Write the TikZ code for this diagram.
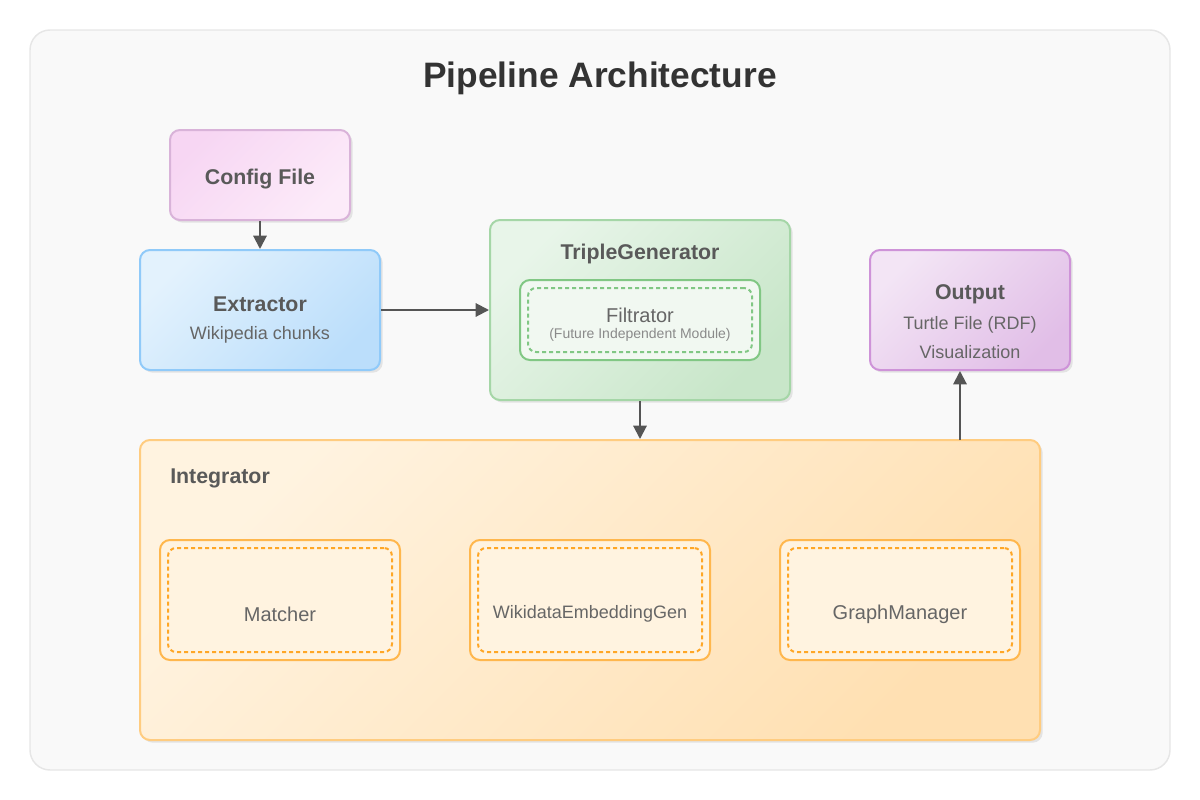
\documentclass[tikz,border=0pt]{standalone}
\usepackage{fontspec}
\setmainfont{Liberation Sans}
\usetikzlibrary{arrows.meta, shadows, positioning}
\definecolor{panelfill}{HTML}{F9F9F9}
\definecolor{panelline}{HTML}{E6E6E6}
\definecolor{titlecol}{HTML}{333333}
\definecolor{headcol}{HTML}{595959}
\definecolor{textcol}{HTML}{666666}
\definecolor{notecol}{HTML}{8A8A8A}
\definecolor{arrowcol}{HTML}{555555}
\definecolor{pinktop}{HTML}{F7D6F3}
\definecolor{pinkbot}{HTML}{FCEBF9}
\definecolor{pinkline}{HTML}{D9B3D9}
\definecolor{bluetop}{HTML}{E3F2FD}
\definecolor{bluebot}{HTML}{BBDEFB}
\definecolor{blueline}{HTML}{90CAF9}
\definecolor{greentop}{HTML}{E8F5E9}
\definecolor{greenbot}{HTML}{C8E6C9}
\definecolor{greenline}{HTML}{A5D6A7}
\definecolor{greendash}{HTML}{81C784}
\definecolor{greenfill}{HTML}{F1F8F1}
\definecolor{purpletop}{HTML}{F3E5F5}
\definecolor{purplebot}{HTML}{E1BEE7}
\definecolor{purpleline}{HTML}{CE93D8}
\definecolor{orangetop}{HTML}{FFF3E0}
\definecolor{orangebot}{HTML}{FFE0B2}
\definecolor{orangeline}{HTML}{FFCC80}
\definecolor{subline}{HTML}{FFB74D}
\definecolor{subdash}{HTML}{FFA726}
\tikzset{
	x=0.75pt, y=-0.75pt,
	box/.style = {rectangle, rounded corners=7.5pt, line width=1.5pt, inner sep=0pt,
		drop shadow={opacity=0.18, shadow xshift=2pt, shadow yshift=-2pt}},
	pinkbox/.style = {box, draw=pinkline, top color=pinktop, bottom color=pinkbot, shading angle=45},
	bluebox/.style = {box, draw=blueline, top color=bluetop, bottom color=bluebot, shading angle=45},
	greenbox/.style = {box, draw=greenline, top color=greentop, bottom color=greenbot, shading angle=45},
	purplebox/.style = {box, draw=purpleline, top color=purpletop, bottom color=purplebot, shading angle=45},
	orangebox/.style = {box, draw=orangeline, top color=orangetop, bottom color=orangebot, shading angle=45},
	subbox/.style = {rectangle, rounded corners=7.5pt, line width=1.5pt, inner sep=0pt,
		draw=subline, fill=orangetop, minimum width=180pt, minimum height=90pt},
	subdashed/.style = {rectangle, rounded corners=6pt, line width=1.5pt, inner sep=0pt,
		draw=subdash, dash pattern=on 3pt off 2.25pt, minimum width=168pt, minimum height=78pt},
	heading/.style = {text=headcol, font=\bfseries\fontsize{16}{19}\selectfont, inner sep=0pt, yshift=-1.5pt},
	subtext/.style = {text=textcol, font=\fontsize{13.5}{16}\selectfont, inner sep=0pt, yshift=-1.5pt},
	flow/.style = {-{Triangle[length=10pt, width=10pt]}, line width=1.5pt, draw=arrowcol}
}
\begin{document}
\begin{tikzpicture}
	\useasboundingbox (0,0) rectangle (1200,800);
	\draw[panelfill, fill=panelfill, draw=panelline, line width=1.1pt, rounded corners=15pt] (30,30) rectangle (1170,770);
	\node[text=titlecol, font=\bfseries\fontsize{26.5}{32}\selectfont] (title) at (600,78) {Pipeline Architecture};
	
	% Boxes
	\node[pinkbox, minimum width=135pt, minimum height=67.5pt] (config) at (260,175) {};
	\node[heading] (config-t) at (260,177) {Config File};
	
	\node[bluebox, minimum width=180pt, minimum height=90pt] (extractor) at (260,310) {};
	\node[heading] (extractor-t) at (260,302) {Extractor};
	\node[subtext] (extractor-s) at (260,333) {Wikipedia chunks};
	
	\node[greenbox, minimum width=225pt, minimum height=135pt] (triple) at (640,310) {};
	\node[heading] (triple-t) at (640,252) {TripleGenerator};
	\node[rectangle, rounded corners=7.5pt, line width=1.5pt, draw=greendash, fill=greenfill,
		minimum width=180pt, minimum height=60pt] (filtrator) at (640,320) {};
	\node[rectangle, rounded corners=6pt, line width=1.5pt, draw=greendash, dash pattern=on 3pt off 2.25pt,
		minimum width=168pt, minimum height=48pt] (filtrator-d) at (640,320) {};
	\node[subtext, font=\fontsize{15}{18}\selectfont] (filtrator-t) at (640,313) {Filtrator};
	\node[text=notecol, font=\fontsize{10.5}{12}\selectfont] (filtrator-s) at (640,335) {(Future Independent Module)};
	
	\node[purplebox, minimum width=150pt, minimum height=90pt] (output) at (970,310) {};
	\node[heading] (output-t) at (970,292) {Output};
	\node[subtext] (output-s) at (970,323) {Turtle File (RDF)};
	\node[subtext] (output-v) at (970,350) {Visualization};
	
	\node[orangebox, minimum width=675pt, minimum height=225pt] (integrator) at (590,590) {};
	\node[heading, anchor=west] (integrator-t) at (170,476) {Integrator};
	
	\foreach \name/\cx/\fs/\lbl in {matcher/280/15/Matcher, embedding/590/13.5/WikidataEmbeddingGen, graph/900/15/GraphManager}{
		\node[subbox] (\name) at (\cx,600) {};
		\node[subdashed] (\name-d) at (\cx,600) {};
		\node[subtext, font=\fontsize{\fs}{18}\selectfont] (\name-t) at (\cx,612) {\lbl};
	}
	
	% Directed edges
	\coordinate (up) at (960,440);
	\draw[flow] (config) -- (extractor);
	\draw[flow] (extractor) -- (triple);
	\draw[flow] (triple.south) -- (triple.south |- integrator.north);
	\draw[flow] (up) -- (up |- output.south);
\end{tikzpicture}
\end{document}
